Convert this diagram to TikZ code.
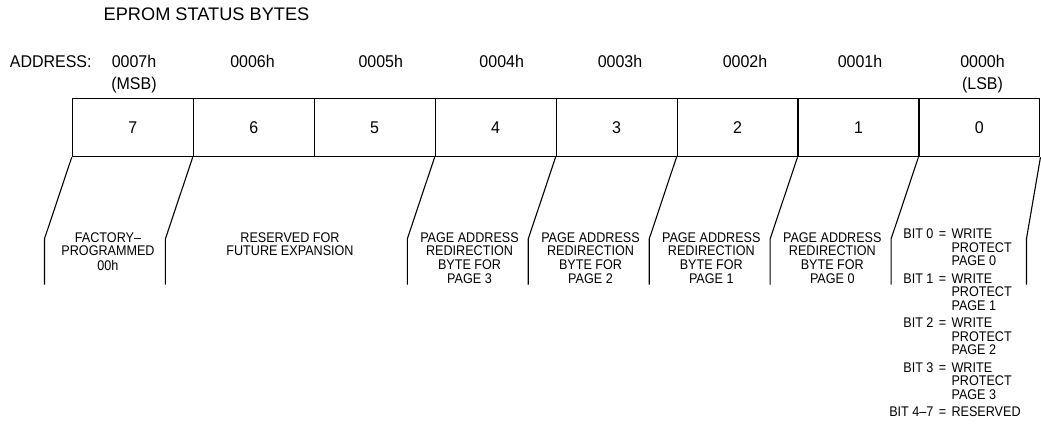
\documentclass[tikz,border=0pt]{standalone}
\usepackage{fontspec}
\setmainfont{Liberation Sans}
\newfontfamily\labfont[FakeStretch=0.94]{Liberation Sans}
\newfontfamily\smfont[FakeStretch=0.9]{Liberation Sans}
\newcommand\mlines[1]{\begin{tabular}[t]{@{}c@{}}#1\end{tabular}}
\newcommand\llines[1]{{\fontsize{14}{12.8}\selectfont\begin{tabular}[t]{@{}l@{}}#1\end{tabular}}}
\begin{document}
\begin{tikzpicture}[x=1pt,y=-1pt,
  line width=1.1pt,
  title/.style={font=\fontsize{18.2}{21}\selectfont, inner sep=0pt, anchor=base},
  lab/.style={font=\labfont\fontsize{17}{20}\selectfont, inner sep=0pt, anchor=base},
  sm/.style={font=\smfont\fontsize{14}{13.5}\selectfont, inner sep=0pt, anchor=base},
  cell/.style={draw, minimum width=120.95pt, minimum height=58.4pt, inner sep=0pt,
    font=\labfont\fontsize{17}{20}\selectfont},
  slant/.style={draw, line join=miter}]
\fill[white] (0,0) rectangle (1041,423);
\useasboundingbox (0,0) rectangle (1041,423);

\node[title] (ttl) at (206.5,20.5) {EPROM STATUS BYTES};
\node[lab, anchor=base west] (addr) at (9.3,67.5) {ADDRESS:};

\node[lab] (a7) at (134,67.5) {0007h};
\node[lab] (msb) at (134,89.5) {(MSB)};
\node[lab] (a6) at (252.5,67.5) {0006h};
\node[lab] (a5) at (380.8,67.5) {0005h};
\node[lab] (a4) at (501.7,67.5) {0004h};
\node[lab] (a3) at (620,67.5) {0003h};
\node[lab] (a2) at (745,67.5) {0002h};
\node[lab] (a1) at (860,67.5) {0001h};
\node[lab] (a0) at (982.5,67.5) {0000h};
\node[lab] (lsb) at (982.5,89.5) {(LSB)};

\node[cell] (b7) at (132.78,127.5) {7};
\node[cell] (b6) at (253.73,127.5) {6};
\node[cell] (b5) at (374.68,127.5) {5};
\node[cell] (b4) at (495.63,127.5) {4};
\node[cell] (b3) at (616.58,127.5) {3};
\node[cell] (b2) at (737.53,127.5) {2};
\node[cell] (b1) at (858.48,127.5) {1};
\node[cell] (b0) at (979.43,127.5) {0};

\foreach \c in {b7,b6,b4,b3,b2,b1,b0}
  \draw[slant] (\c.south west) -- ++(-27.3,81.6) -- ++(0,45.7);
\draw[slant] (b0.south east) -- ++(-14,81.6) -- ++(0,45.7);

\node[sm] (fac) at (108,242) {\mlines{FACTORY\textendash\\PROGRAMMED\\00h}};
\node[sm] (res) at (290,242) {\mlines{RESERVED FOR\\FUTURE EXPANSION}};
\node[sm] (p3) at (469.5,242) {\mlines{PAGE ADDRESS\\REDIRECTION\\BYTE FOR\\PAGE 3}};
\node[sm] (p2) at (590.5,242) {\mlines{PAGE ADDRESS\\REDIRECTION\\BYTE FOR\\PAGE 2}};
\node[sm] (p1) at (711.3,242) {\mlines{PAGE ADDRESS\\REDIRECTION\\BYTE FOR\\PAGE 1}};
\node[sm] (p0) at (832.3,242) {\mlines{PAGE ADDRESS\\REDIRECTION\\BYTE FOR\\PAGE 0}};

\foreach \i/\y in {0/238.5,1/283,2/327.5,3/372}{
  \node[sm, anchor=base east] (bit\i) at (934,\y) {BIT \i};
  \node[sm] (eq\i) at (942.5,\y) {=};
  \node[sm, anchor=base west] (wp\i) at (951,\y) {\llines{WRITE\\PROTECT\\PAGE \i}};
}
\node[sm, anchor=base east] (bit47) at (934,416) {BIT 4\textendash7};
\node[sm] (eq47) at (942.5,416) {=};
\node[sm, anchor=base west] (rsv) at (951,416) {RESERVED};
\end{tikzpicture}
\end{document}
